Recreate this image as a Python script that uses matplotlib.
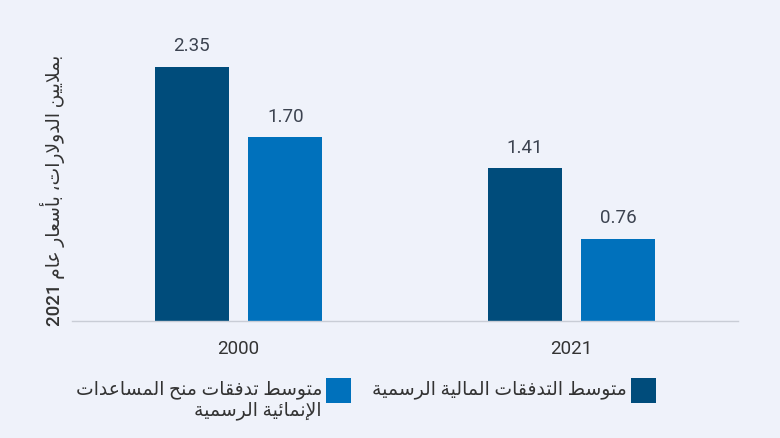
import re
import matplotlib
matplotlib.use('Agg')
import matplotlib.pyplot as plt
import numpy as np
from matplotlib.patches import Rectangle

# data
years = ['2000', '2021']
official_flows = [2.35, 1.41]
oda_grants = [1.70, 0.76]
series_names = ['متوسط التدفقات المالية الرسمية', 'متوسط تدفقات منح المساعدات\nالإنمائية الرسمية']
y_title = 'بملايين الدولارات، بأسعار عام 2021'
colors = ['#004C7B', '#0071BC']

# minimal arabic shaping (matplotlib has no bidi / joining support)
FORMS = {
    '\u0627': ('\uFE8D', '\uFE8E', None, None),
    '\u0623': ('\uFE83', '\uFE84', None, None),
    '\u0625': ('\uFE87', '\uFE88', None, None),
    '\u0628': ('\uFE8F', '\uFE90', '\uFE91', '\uFE92'),
    '\u062A': ('\uFE95', '\uFE96', '\uFE97', '\uFE98'),
    '\u0629': ('\uFE93', '\uFE94', None, None),
    '\u062D': ('\uFEA1', '\uFEA2', '\uFEA3', '\uFEA4'),
    '\u062F': ('\uFEA9', '\uFEAA', None, None),
    '\u0631': ('\uFEAD', '\uFEAE', None, None),
    '\u0633': ('\uFEB1', '\uFEB2', '\uFEB3', '\uFEB4'),
    '\u0637': ('\uFEC1', '\uFEC2', '\uFEC3', '\uFEC4'),
    '\u0639': ('\uFEC9', '\uFECA', '\uFECB', '\uFECC'),
    '\u0641': ('\uFED1', '\uFED2', '\uFED3', '\uFED4'),
    '\u0642': ('\uFED5', '\uFED6', '\uFED7', '\uFED8'),
    '\u0644': ('\uFEDD', '\uFEDE', '\uFEDF', '\uFEE0'),
    '\u0645': ('\uFEE1', '\uFEE2', '\uFEE3', '\uFEE4'),
    '\u0646': ('\uFEE5', '\uFEE6', '\uFEE7', '\uFEE8'),
    '\u0648': ('\uFEED', '\uFEEE', None, None),
    '\u064A': ('\uFEF1', '\uFEF2', '\uFEF3', '\uFEF4'),
    '\u0626': ('\uFE89', '\uFE8A', '\uFE8B', '\uFE8C'),
}
LAMALEF = {
    '\u0627': ('\uFEFB', '\uFEFC'),
    '\u0623': ('\uFEF7', '\uFEF8'),
    '\u0625': ('\uFEF9', '\uFEFA'),
}


def shape_line(text):
    chars = list(text)
    res = []
    prev_dual = False
    i = 0
    while i < len(chars):
        c = chars[i]
        if c not in FORMS:
            res.append(c)
            prev_dual = False
            i += 1
            continue
        if c == '\u0644' and i + 1 < len(chars) and chars[i + 1] in LAMALEF:
            iso, fin = LAMALEF[chars[i + 1]]
            res.append(fin if prev_dual else iso)
            prev_dual = False
            i += 2
            continue
        iso, fin, ini, med = FORMS[c]
        nxt = chars[i + 1] if i + 1 < len(chars) else None
        next_joins = ini is not None and nxt in FORMS
        if prev_dual and next_joins:
            g = med
        elif prev_dual:
            g = fin
        elif next_joins:
            g = ini
        else:
            g = iso
        res.append(g)
        prev_dual = ini is not None
        i += 1
    s = ''.join(reversed(res))
    return re.sub(r'[0-9.]+', lambda m: m.group(0)[::-1], s)


def shape(text):
    return '\n'.join(shape_line(l) for l in text.split('\n'))


plt.rcParams['font.family'] = ['Roboto', 'DejaVu Sans']
bg = '#EFF2FA'
fs = 13.5
W, H = 780, 439
fig = plt.figure(figsize=(7.8, 4.39), dpi=100, facecolor=bg)
ax = fig.add_axes([72 / W, (H - 322) / H, 666 / W, 264 / H])
ax.set_facecolor(bg)

x = np.arange(len(years))
w = 0.222
off = 0.141
b1 = ax.bar(x - off, official_flows, w, color=colors[0])
b2 = ax.bar(x + off, oda_grants, w, color=colors[1])
ax.bar_label(b1, labels=[f'{v:.2f}' for v in official_flows], padding=9, fontsize=fs, color='#3C4350')
ax.bar_label(b2, labels=[f'{v:.2f}' for v in oda_grants], padding=9, fontsize=fs, color='#3C4350')

ax.set_xlim(-0.5, 1.5)
ax.set_ylim(0, 2.44)
ax.set_xticks(x)
ax.set_xticklabels(years, fontsize=fs, color='#333333')
ax.tick_params(axis='x', length=0, pad=13)
ax.set_yticks([])
for s in ['top', 'right', 'left']:
    ax.spines[s].set_visible(False)
ax.spines['bottom'].set_color('#C9CDD6')
ax.spines['bottom'].set_linewidth(1)

ax.set_ylabel(shape(y_title), fontsize=fs, color='#333333', fontweight='medium')
ax.yaxis.set_label_coords(-7 / 666, 0.5)

# legend, right to left
sw = 25
legend_items = [(631, series_names[0], colors[0]), (326, series_names[1], colors[1])]
for x0, name, c in legend_items:
    fig.patches.append(Rectangle((x0 / W, (H - 404) / H), sw / W, sw / H,
                                 transform=fig.transFigure, facecolor=c, edgecolor='none'))
    fig.text((x0 - 4) / W, (H - 380) / H, shape(name), ha='right', va='top',
             multialignment='right', fontsize=fs, color='#333333', linespacing=1.2)

fig.savefig('out.png', dpi=100, facecolor=bg)
